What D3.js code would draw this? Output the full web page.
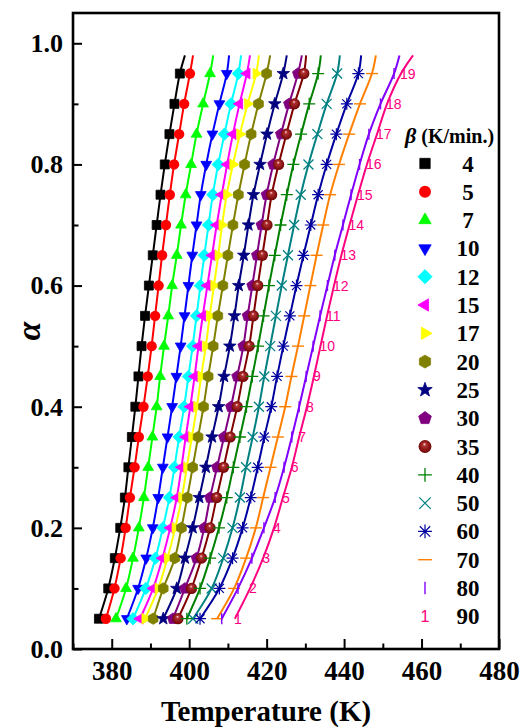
<!DOCTYPE html>
<html>
<head>
<meta charset="utf-8">
<script src="https://cdn.jsdelivr.net/npm/d3@7"></script>
<style>
  body { margin: 0; background: #fff; }
  svg { display: block; }
</style>
</head>
<body>
<div id="chart"></div>
<script>
// conversion levels of the measured points
const alphaLevels = [0.05, 0.10, 0.15, 0.20, 0.25, 0.30, 0.35, 0.40, 0.45, 0.50,
                     0.55, 0.60, 0.65, 0.70, 0.75, 0.80, 0.85, 0.90, 0.95];
const lineEndAlpha = 0.98;

// heating rates (K/min.)
const betas = [4, 5, 7, 10, 12, 15, 17, 20, 25, 30, 35, 40, 50, 60, 70, 80, 90];

// temperature (K) at each alpha level, one array per heating rate
const T4  = [376.7, 379.1, 380.8, 382.2, 383.4, 384.3, 385.2, 386.1, 386.9, 387.7, 388.6, 389.6, 390.6, 391.6, 392.6, 393.7, 394.9, 396.2, 397.6];
const T5  = [378.5, 380.7, 382.3, 383.6, 384.7, 385.9, 387.0, 388.2, 389.3, 390.3, 391.2, 392.1, 393.0, 394.0, 395.0, 396.1, 397.4, 398.7, 400.2];
const T7  = [381.1, 383.7, 385.5, 387.0, 388.3, 389.4, 390.5, 391.6, 392.5, 393.5, 394.6, 395.6, 396.8, 397.9, 399.1, 400.5, 401.9, 403.6, 405.4];
const T10 = [383.9, 386.8, 388.9, 390.6, 392.0, 393.2, 394.4, 395.6, 396.7, 397.8, 398.8, 399.8, 400.8, 401.9, 403.0, 404.4, 406.0, 407.8, 409.7];
const T12 = [385.5, 388.8, 391.3, 393.2, 394.9, 396.2, 397.4, 398.7, 399.8, 400.9, 401.9, 402.9, 403.9, 405.0, 406.1, 407.5, 409.1, 410.8, 412.7];
const T15 = [387.3, 390.7, 393.1, 395.1, 396.8, 398.0, 399.1, 400.3, 401.4, 402.4, 403.5, 404.7, 405.9, 407.1, 408.4, 409.8, 411.3, 413.0, 414.9];
const T17 = [388.6, 392.0, 394.4, 396.4, 398.1, 399.4, 400.7, 402.0, 403.1, 404.3, 405.3, 406.4, 407.5, 408.5, 409.7, 411.3, 413.1, 415.1, 417.3];
const T20 = [390.7, 393.3, 396.3, 398.0, 399.5, 400.9, 402.3, 403.7, 404.9, 406.2, 407.4, 408.7, 410.0, 411.3, 412.7, 414.3, 416.0, 417.9, 420.0];
const T25 = [393.3, 396.8, 398.9, 400.9, 402.6, 404.3, 405.9, 407.6, 409.0, 410.5, 411.7, 412.8, 414.1, 415.3, 416.6, 418.3, 420.1, 422.1, 424.3];
const T30 = [395.8, 398.9, 401.9, 403.9, 405.4, 407.2, 409.0, 410.8, 412.4, 414.0, 415.1, 416.3, 417.5, 418.7, 420.0, 421.7, 423.7, 425.8, 428.1];
const T35 = [397.1, 400.6, 403.2, 405.4, 407.1, 408.9, 410.6, 412.4, 413.9, 415.5, 416.6, 417.7, 418.9, 420.1, 421.3, 423.1, 425.1, 427.2, 429.6];
const T40 = [399.4, 402.8, 405.4, 407.7, 409.7, 411.4, 413.1, 414.8, 416.3, 417.8, 419.2, 420.6, 422.1, 423.6, 425.2, 426.9, 428.9, 431.0, 433.3];
const T50 = [401.0, 405.8, 408.8, 411.2, 413.1, 414.7, 416.4, 418.0, 419.4, 420.9, 422.4, 423.9, 425.5, 427.1, 428.8, 430.8, 433.1, 435.5, 438.2];
const T60 = [402.8, 407.8, 411.2, 413.8, 415.9, 417.7, 419.4, 421.2, 422.7, 424.3, 426.0, 427.7, 429.5, 431.4, 433.3, 435.5, 438.0, 440.7, 443.7];
const T70 = [407.2, 411.6, 414.7, 417.2, 419.1, 421.0, 422.9, 424.8, 426.4, 428.1, 429.7, 431.3, 432.9, 434.6, 436.4, 438.7, 441.3, 444.1, 447.2];
const T80 = [408.4, 412.6, 416.2, 419.3, 422.2, 424.5, 426.5, 428.4, 430.2, 432.0, 433.8, 435.7, 437.6, 439.7, 441.8, 444.0, 446.4, 449.4, 452.9];
const T90 = [411.8, 415.7, 419.1, 421.9, 424.2, 426.5, 428.4, 430.4, 432.2, 433.9, 435.6, 437.4, 439.3, 441.4, 443.6, 445.9, 448.5, 451.1, 454.7];

// where each fitted line ends (at lineEndAlpha)
const lineEndT = [398.9, 401.0, 406.2, 410.3, 413.4, 415.7, 418.0, 420.9, 425.2, 429.1, 430.2, 434.0, 438.9, 444.4, 448.2, 454.3, 457.8];

const xTicks = [380, 400, 420, 440, 460, 480];
const xMinor = [370, 390, 410, 430, 450, 470];
const yTicks = [0, 0.2, 0.4, 0.6, 0.8, 1.0];
const yMinor = [0.1, 0.3, 0.5, 0.7, 0.9];

const temps = [T4, T5, T7, T10, T12, T15, T17, T20, T25, T30, T35, T40, T50, T60, T70, T80, T90];
const colors = ["#000000", "#ff0000", "#00ff00", "#0000ff", "#00ffff", "#ff00ff", "#ffff00",
                "#808000", "#000080", "#800080", "#800000", "#008000", "#008080", "#0000a0",
                "#ff8000", "#8000ff", "#ff0080"];
const symbols = ["square", "circle", "triUp", "triDown", "diamond", "triLeft", "triRight",
                 "hexagon", "star", "pentagon", "sphere", "plus", "cross", "asterisk",
                 "hbar", "vbar", "index"];

const W = 521, H = 727;
const plot = {left: 73, right: 499, top: 13, bottom: 649};
const serif = "'Liberation Serif', 'Times New Roman', serif";

const x = d3.scaleLinear().domain([370, 480]).range([plot.left, plot.right]);
const y = d3.scaleLinear().domain([0, 1.05]).range([plot.bottom, plot.top]);

const svg = d3.select("#chart").append("svg")
    .attr("width", W)
    .attr("height", H)
    .attr("viewBox", `0 0 ${W} ${H}`);

svg.append("rect").attr("width", W).attr("height", H).attr("fill", "white");

const defs = svg.append("defs");
const grad = defs.append("radialGradient")
    .attr("id", "sphere")
    .attr("cx", "0.5").attr("cy", "0.5").attr("r", "0.55")
    .attr("fx", "0.45").attr("fy", "0.3");
grad.append("stop").attr("offset", "0").attr("stop-color", "#ffe0e0");
grad.append("stop").attr("offset", "0.25").attr("stop-color", "#b03030");
grad.append("stop").attr("offset", "1").attr("stop-color", "#6a0000");

// regular polygon path, first vertex at angle a0 (degrees)
function polygon(n, r, a0) {
    const pts = d3.range(n).map(k => {
        const a = (a0 + k * 360 / n) * Math.PI / 180;
        return [r * Math.cos(a), r * Math.sin(a)];
    });
    return "M" + pts.map(p => p[0].toFixed(2) + "," + p[1].toFixed(2)).join("L") + "Z";
}

function starPath(ro, ri) {
    const pts = d3.range(10).map(k => {
        const r = k % 2 ? ri : ro;
        const a = (-90 + k * 36) * Math.PI / 180;
        return [r * Math.cos(a), r * Math.sin(a)];
    });
    return "M" + pts.map(p => p[0].toFixed(2) + "," + p[1].toFixed(2)).join("L") + "Z";
}

function drawMarker(g, kind, color, k, idx) {
    const filled = (d) => g.append("path").attr("d", d).attr("fill", color).attr("stroke", color).attr("stroke-width", 0.8);
    const thin = (d, w) => g.append("path").attr("d", d).attr("fill", "none").attr("stroke", color).attr("stroke-width", w);
    switch (kind) {
        case "square":   filled(`M${-4.5*k},${-4.5*k}h${9*k}v${9*k}h${-9*k}Z`); break;
        case "circle":   g.append("circle").attr("r", 5.2 * k).attr("fill", color); break;
        case "triUp":    filled(polygon(3, 6.2 * k, -90)); break;
        case "triDown":  filled(polygon(3, 6.2 * k, 90)); break;
        case "triLeft":  filled(polygon(3, 6.2 * k, 180)); break;
        case "triRight": filled(polygon(3, 6.2 * k, 0)); break;
        case "diamond":  filled(polygon(4, 6.2 * k, -90)); break;
        case "hexagon":  filled(polygon(6, 5.6 * k, -90)); break;
        case "pentagon": filled(polygon(5, 5.8 * k, -90)); break;
        case "star":     filled(starPath(6.6 * k, 2.7 * k)); break;
        case "sphere":   g.append("circle").attr("r", 5.6 * k).attr("fill", "url(#sphere)"); break;
        case "plus":     thin(`M${-6*k},0H${6*k}M0,${-6*k}V${6*k}`, 1.3); break;
        case "cross":    thin(`M${-5*k},${-5*k}L${5*k},${5*k}M${-5*k},${5*k}L${5*k},${-5*k}`, 1.3); break;
        case "asterisk": thin(`M${-6*k},0H${6*k}M0,${-6*k}V${6*k}M${-4.5*k},${-4.5*k}L${4.5*k},${4.5*k}M${-4.5*k},${4.5*k}L${4.5*k},${-4.5*k}`, 1.2); break;
        case "hbar":     thin(`M${-6*k},0H${6*k}`, 1.4); break;
        case "vbar":     thin(`M0,${-5.5*k}V${5.5*k}`, 1.4); break;
        case "index":
            g.append("text").text(idx)
                .attr("x", k > 1 ? 0 : -1)
                .attr("dy", "0.36em")
                .attr("text-anchor", k > 1 ? "middle" : "start")
                .attr("font-family", "'Liberation Sans', Arial, sans-serif")
                .attr("font-size", 14 * k)
                .attr("fill", color);
            break;
    }
}

// series: fitted line then measured points
const line = d3.line()
    .x(d => x(d[0]))
    .y(d => y(d[1]))
    .curve(d3.curveCatmullRom.alpha(0.5));

const plotArea = svg.append("g").attr("class", "series");

betas.forEach((b, i) => {
    const pts = alphaLevels.map((a, j) => [temps[i][j], a]);
    plotArea.append("path")
        .datum(pts.concat([[lineEndT[i], lineEndAlpha]]))
        .attr("d", line)
        .attr("fill", "none")
        .attr("stroke", colors[i])
        .attr("stroke-width", 2);

    plotArea.append("g").selectAll("g")
        .data(pts)
        .join("g")
        .attr("transform", d => `translate(${x(d[0])},${y(d[1])})`)
        .each(function(d, j) { drawMarker(d3.select(this), symbols[i], colors[i], 1, j + 1); });
});

// axes with inward ticks
function styleAxis(g, fontSize) {
    g.selectAll(".domain").remove();
    g.selectAll(".tick line").attr("stroke", "black").attr("stroke-width", 2);
    g.selectAll(".tick text")
        .attr("font-family", serif)
        .attr("font-weight", "bold")
        .attr("font-size", fontSize)
        .attr("fill", "black");
}

svg.append("g")
    .attr("transform", `translate(0,${plot.bottom})`)
    .call(d3.axisBottom(x).tickValues(xTicks).tickSize(-10).tickPadding(12).tickFormat(d3.format("d")))
    .call(g => styleAxis(g, 27));

svg.append("g")
    .attr("transform", `translate(0,${plot.bottom})`)
    .call(d3.axisBottom(x).tickValues(xMinor).tickSize(-5.5).tickFormat(""))
    .call(g => styleAxis(g, 27));

svg.append("g")
    .attr("transform", `translate(${plot.left},0)`)
    .call(d3.axisLeft(y).tickValues(yTicks).tickSize(-9).tickPadding(10).tickFormat(d3.format(".1f")))
    .call(g => styleAxis(g, 26));

svg.append("g")
    .attr("transform", `translate(${plot.left},0)`)
    .call(d3.axisLeft(y).tickValues(yMinor).tickSize(-5.5).tickFormat(""))
    .call(g => styleAxis(g, 26));

// frame
svg.append("rect")
    .attr("x", plot.left)
    .attr("y", plot.top)
    .attr("width", plot.right - plot.left)
    .attr("height", plot.bottom - plot.top)
    .attr("fill", "none")
    .attr("stroke", "black")
    .attr("stroke-width", 2.6);

// axis titles
svg.append("text")
    .attr("x", 266)
    .attr("y", 721)
    .attr("text-anchor", "middle")
    .attr("font-family", serif)
    .attr("font-weight", "bold")
    .attr("font-size", 29)
    .text("Temperature (K)");

svg.append("text")
    .attr("transform", "translate(40,331) rotate(-90)")
    .attr("text-anchor", "middle")
    .attr("font-family", serif)
    .attr("font-weight", "bold")
    .attr("font-style", "italic")
    .attr("font-size", 34)
    .text("α");

// legend
const legend = svg.append("g").attr("class", "legend");
const title = legend.append("text")
    .attr("x", 405)
    .attr("y", 143)
    .attr("font-family", serif)
    .attr("font-weight", "bold")
    .attr("font-size", 20);
title.append("tspan").attr("font-style", "italic").attr("font-size", 22).text("β");
title.append("tspan").text(" (K/min.)");

const rowY = d3.scaleLinear().domain([0, 1]).range([163.5, 191.8]);

const items = legend.selectAll("g.item")
    .data(betas)
    .join("g")
    .attr("class", "item")
    .attr("transform", (d, i) => `translate(0,${rowY(i)})`);

items.append("g")
    .attr("transform", "translate(425,0)")
    .each(function(d, i) { drawMarker(d3.select(this), symbols[i], colors[i], 1.15, 1); });

items.append("text")
    .attr("x", 468)
    .attr("dy", "0.35em")
    .attr("text-anchor", "middle")
    .attr("font-family", serif)
    .attr("font-weight", "bold")
    .attr("font-size", 23)
    .text(d => d);
</script>
</body>
</html>
